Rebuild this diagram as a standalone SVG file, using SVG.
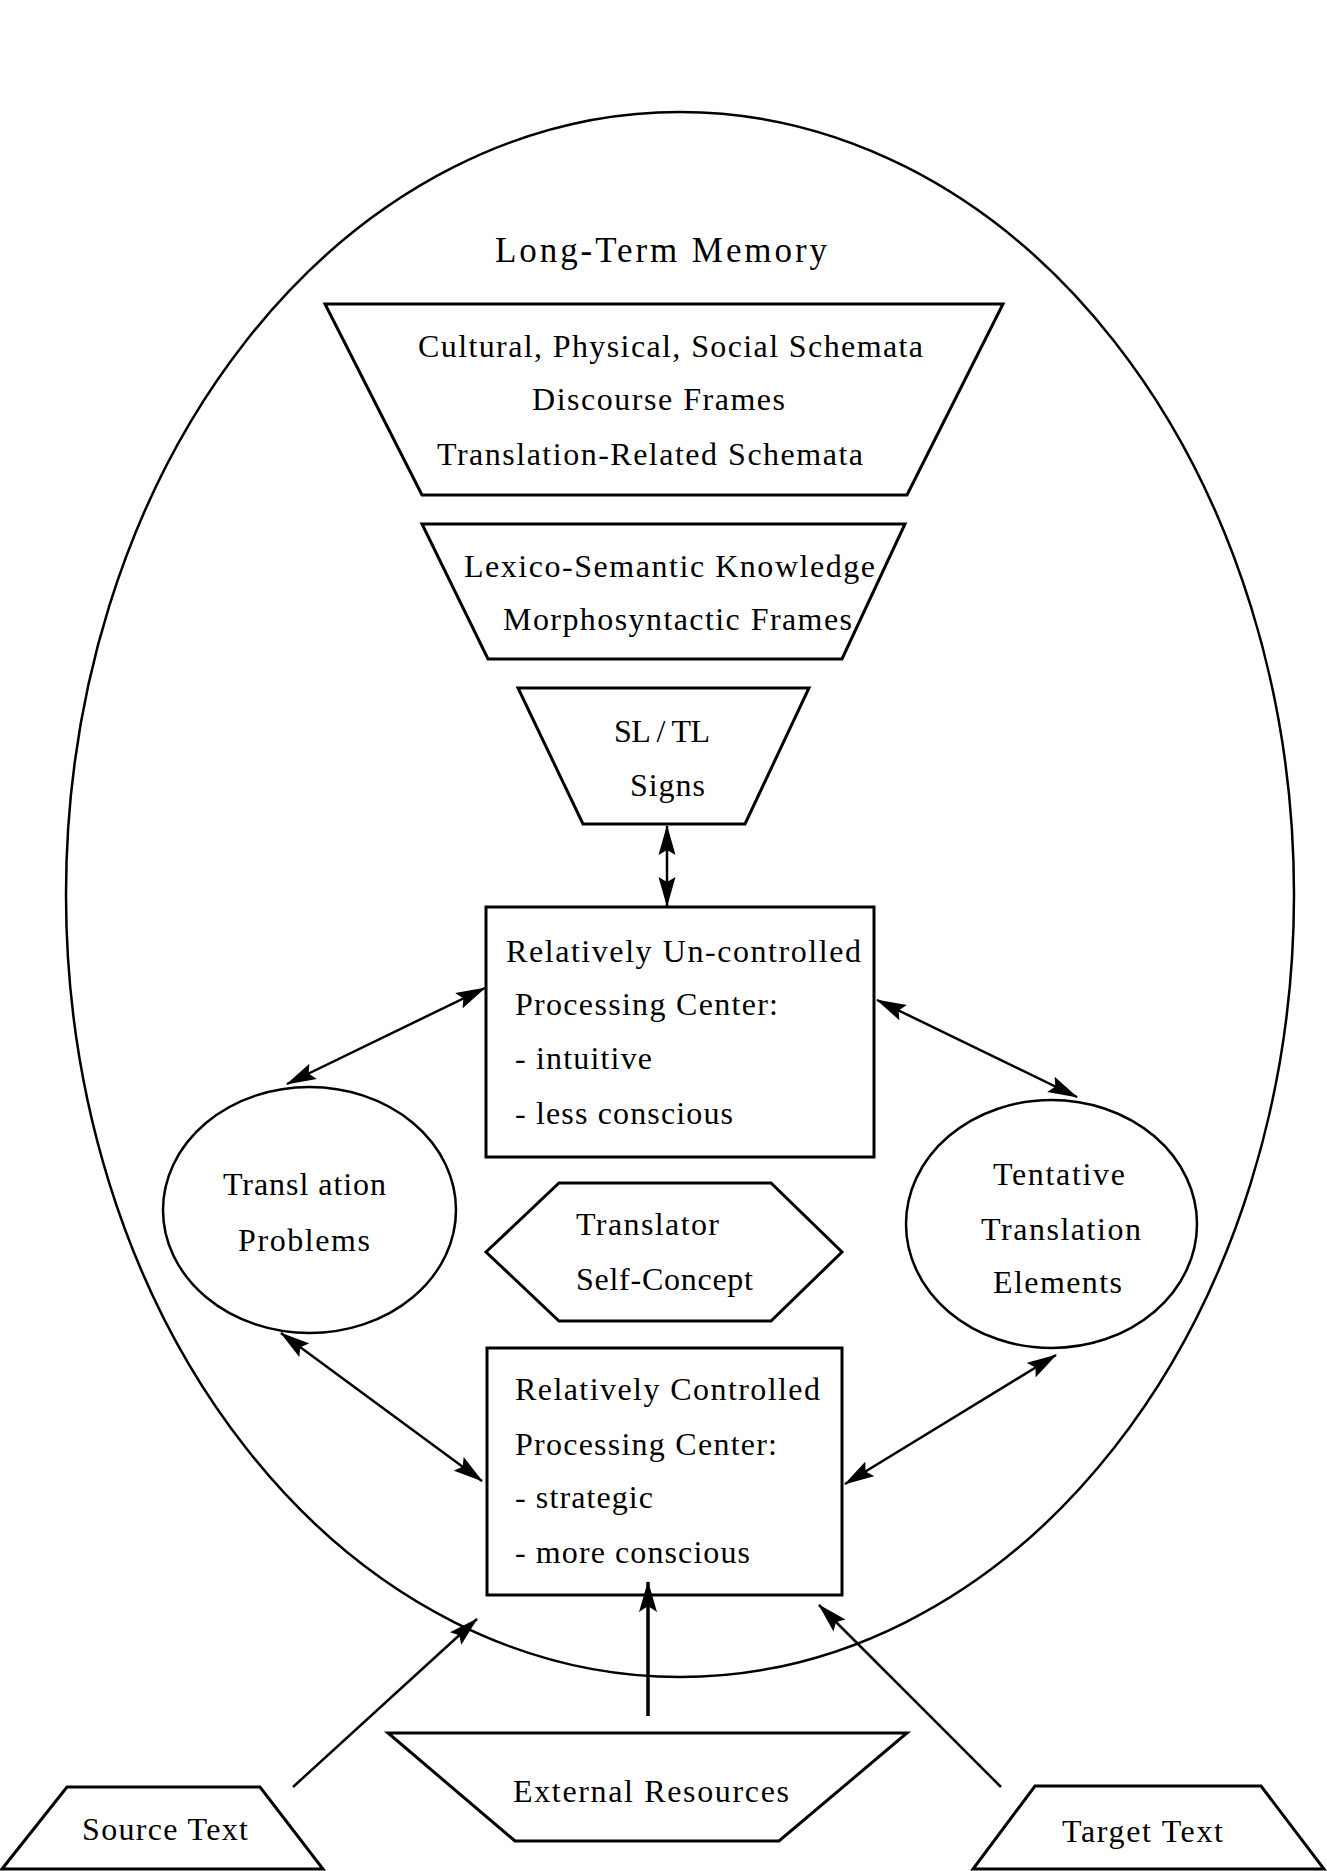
<svg xmlns="http://www.w3.org/2000/svg" width="1327" height="1871" viewBox="0 0 1327 1871">
<style>
.shape{fill:none;stroke:#000;stroke-width:3;stroke-linejoin:miter}
.thin{fill:none;stroke:#000;stroke-width:2.5}
.lbl{font-family:"Liberation Serif","Times New Roman",serif;font-size:32px;fill:#000}
.title{font-size:35px}
.conn{fill:none;stroke:#000;stroke-width:2.5}
</style>
<defs>
<marker id="ah" markerUnits="userSpaceOnUse" markerWidth="32" markerHeight="18" refX="29" refY="8.5" orient="auto-start-reverse" viewBox="0 0 32 17">
<path d="M0,0 L30,8.5 L0,17 L5,8.5 z" fill="#000"/>
</marker>
<marker id="ahb" markerUnits="userSpaceOnUse" markerWidth="32" markerHeight="20" refX="30" refY="9" orient="auto" viewBox="0 0 32 18">
<path d="M0,0 L31,9 L0,18 L6,9 z" fill="#000"/>
</marker>
</defs>
<rect width="1327" height="1871" fill="#fff"/>

<g id="long-term-memory">
<ellipse class="thin" cx="680" cy="894.5" rx="614" ry="782.5"/>
<text class="lbl title" x="495" y="262" textLength="332" lengthAdjust="spacing">Long-Term Memory</text>
</g>

<g id="schemata">
<polygon class="shape" points="325,304 1003,304 907,495 422,495"/>
<text class="lbl" x="418" y="357" textLength="505" lengthAdjust="spacing">Cultural, Physical, Social Schemata</text>
<text class="lbl" x="532" y="410" textLength="253" lengthAdjust="spacing">Discourse Frames</text>
<text class="lbl" x="437" y="465" textLength="426" lengthAdjust="spacing">Translation-Related Schemata</text>
</g>

<g id="lexico">
<polygon class="shape" points="422,524 905,524 842,659 488,659"/>
<text class="lbl" x="464" y="577" textLength="411" lengthAdjust="spacing">Lexico-Semantic Knowledge</text>
<text class="lbl" x="503" y="630" textLength="349" lengthAdjust="spacing">Morphosyntactic Frames</text>
</g>

<g id="signs">
<polygon class="shape" points="518,688 809,688 745,824 583,824"/>
<text class="lbl" x="614" y="742" textLength="96" lengthAdjust="spacing">SL / TL</text>
<text class="lbl" x="630" y="796" textLength="75" lengthAdjust="spacing">Signs</text>
</g>

<g id="uncontrolled">
<rect class="shape" x="486" y="907" width="388" height="250"/>
<text class="lbl" x="506" y="962" textLength="355" lengthAdjust="spacing">Relatively Un-controlled</text>
<text class="lbl" x="515" y="1015" textLength="263" lengthAdjust="spacing">Processing Center:</text>
<text class="lbl" x="515" y="1069" textLength="137" lengthAdjust="spacing">- intuitive</text>
<text class="lbl" x="515" y="1124" textLength="218" lengthAdjust="spacing">- less conscious</text>
</g>

<g id="problems">
<ellipse class="thin" cx="309.5" cy="1210" rx="146.5" ry="123"/>
<text class="lbl" x="223" y="1195" textLength="163" lengthAdjust="spacing">Transl ation</text>
<text class="lbl" x="238" y="1251" textLength="132" lengthAdjust="spacing">Problems</text>
</g>

<g id="self-concept">
<polygon class="shape" points="486,1252 559,1183 771,1183 842,1252 771,1321 559,1321"/>
<text class="lbl" x="576" y="1235" textLength="143" lengthAdjust="spacing">Translator</text>
<text class="lbl" x="576" y="1290" textLength="177" lengthAdjust="spacing">Self-Concept</text>
</g>

<g id="tentative">
<ellipse class="thin" cx="1051.5" cy="1224" rx="145.5" ry="124"/>
<text class="lbl" x="993" y="1185" textLength="132" lengthAdjust="spacing">Tentative</text>
<text class="lbl" x="981" y="1240" textLength="160" lengthAdjust="spacing">Translation</text>
<text class="lbl" x="993" y="1293" textLength="129" lengthAdjust="spacing">Elements</text>
</g>

<g id="controlled">
<rect class="shape" x="487" y="1348" width="355" height="247"/>
<text class="lbl" x="515" y="1400" textLength="305" lengthAdjust="spacing">Relatively Controlled</text>
<text class="lbl" x="515" y="1455" textLength="262" lengthAdjust="spacing">Processing Center:</text>
<text class="lbl" x="515" y="1508" textLength="138" lengthAdjust="spacing">- strategic</text>
<text class="lbl" x="515" y="1563" textLength="235" lengthAdjust="spacing">- more conscious</text>
</g>

<g id="source-text">
<polygon class="shape" points="67,1787 260,1787 323,1869 2,1869"/>
<text class="lbl" x="82" y="1840" textLength="166" lengthAdjust="spacing">Source Text</text>
</g>

<g id="external-resources">
<polygon class="shape" points="388,1733 907,1733 779,1841 515,1841"/>
<text class="lbl" x="513" y="1802" textLength="276" lengthAdjust="spacing">External Resources</text>
</g>

<g id="target-text">
<polygon class="shape" points="1035,1786 1261,1786 1324,1869 973,1869"/>
<text class="lbl" x="1062" y="1842" textLength="161" lengthAdjust="spacing">Target Text</text>
</g>

<g id="connectors">
<line class="conn" x1="667" y1="826" x2="667" y2="906" marker-start="url(#ah)" marker-end="url(#ah)"/>
<line class="conn" x1="485" y1="988" x2="287" y2="1084" marker-start="url(#ah)" marker-end="url(#ah)"/>
<line class="conn" x1="877" y1="1000" x2="1077" y2="1097" marker-start="url(#ah)" marker-end="url(#ah)"/>
<line class="conn" x1="281" y1="1333" x2="482" y2="1481" marker-start="url(#ah)" marker-end="url(#ah)"/>
<line class="conn" x1="1056" y1="1355" x2="845" y2="1484" marker-start="url(#ah)" marker-end="url(#ah)"/>
<line class="conn" x1="293" y1="1787" x2="477" y2="1619" marker-end="url(#ah)"/>
<line class="conn" x1="648" y1="1716" x2="648" y2="1582" style="stroke-width:3.5" marker-end="url(#ahb)"/>
<line class="conn" x1="1001" y1="1787" x2="819" y2="1605" marker-end="url(#ah)"/>
</g>
</svg>
